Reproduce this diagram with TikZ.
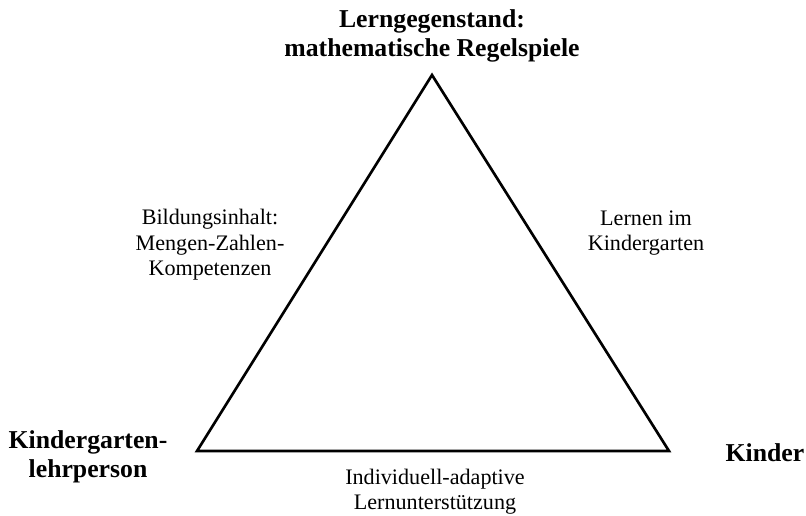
\documentclass[tikz,border=0pt]{standalone}
\usepackage{fontspec}
\setmainfont{Liberation Serif}
\begin{document}
\begin{tikzpicture}[x=0.75pt,y=-0.75pt,
  corner/.style={font={\fontsize{19.3}{21.5}\selectfont\bfseries},align=center,inner sep=0pt},
  edgelabel/.style={font={\fontsize{16.6}{19}\selectfont},align=center,inner sep=0pt},
  side/.style={line width=2pt,line join=miter}]
\useasboundingbox (0,0) rectangle (806,515);
\coordinate (T) at (432,75);
\coordinate (L) at (197,451);
\coordinate (R) at (669,451);
\draw[side] (T) -- (L) -- (R) -- cycle;
\node[corner] (top) at (432,36) {Lerngegenstand:\\mathematische Regelspiele};
\node[corner] (lp) at (88,457) {Kindergarten-\\lehrperson};
\node[corner] (ki) at (765,453) {Kinder};
\node[edgelabel] (bl) at (435,492) {Individuell-adaptive\\Lernunterstützung};
\node[edgelabel] (le) at (210,245) {Bildungsinhalt:\\Mengen-Zahlen-\\Kompetenzen};
\node[edgelabel] (ri) at (646,233) {Lernen im\\Kindergarten};
\end{tikzpicture}
\end{document}
